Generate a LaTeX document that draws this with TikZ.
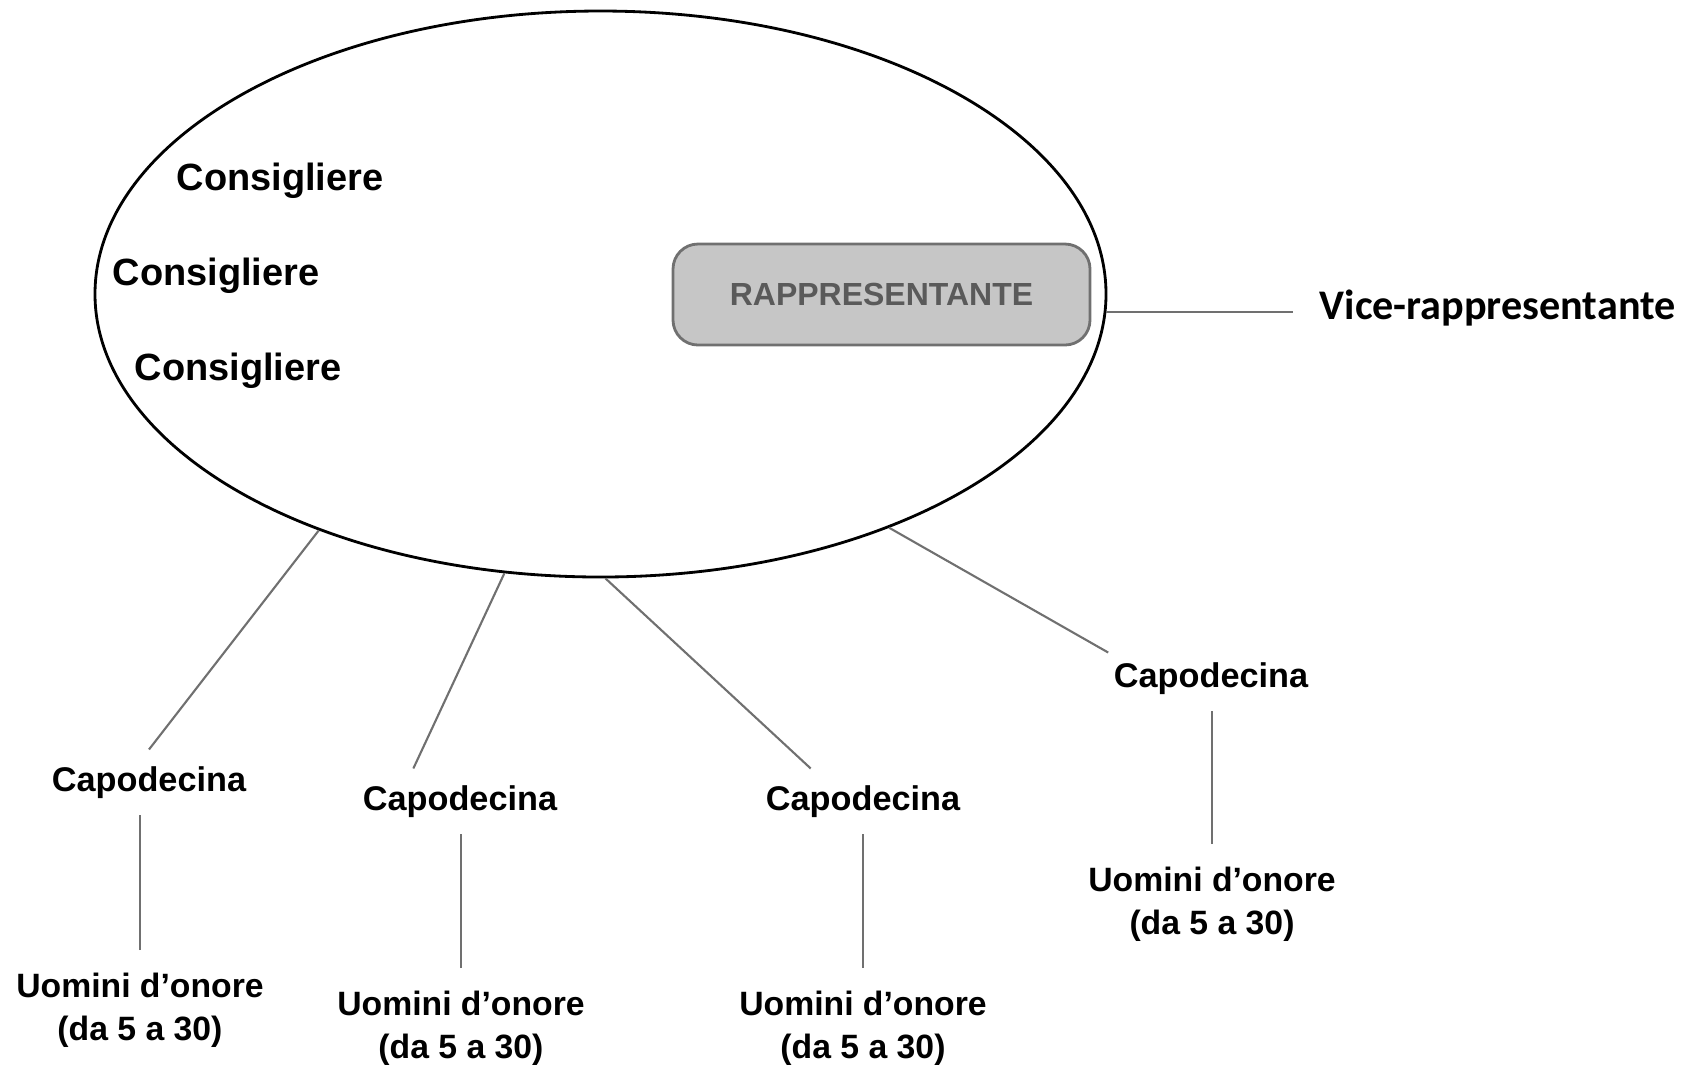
\documentclass[tikz,border=0pt]{standalone}
\usepackage{fontspec}
\setmainfont{Liberation Sans}
\newfontfamily\calibrifont{Carlito}
\usetikzlibrary{shapes.geometric, calc}
\definecolor{linegray}{RGB}{112,112,112}
\definecolor{boxfill}{RGB}{198,198,198}
\definecolor{boxtext}{RGB}{90,90,90}

\begin{document}
\begin{tikzpicture}[
    conn/.style={draw=linegray, line width=0.6pt},
    consig/.style={anchor=base, font=\bfseries\fontsize{10.8}{13}\selectfont},
    capo/.style={anchor=base, inner xsep=0.05cm, inner ysep=0.16cm, font=\bfseries\fontsize{9.75}{11}\selectfont},
    uomini/.style={anchor=north, align=center, inner ysep=0.22cm, font=\bfseries\fontsize{9.6}{12.2}\selectfont}
]
    \useasboundingbox (0,0) rectangle (16.92,-10.64);

    % the family
    \node[ellipse, draw, line width=0.8pt, minimum width=10.11cm, minimum height=5.66cm, inner sep=0pt] (ell) at (6.005,-2.94) {};
    \node[consig] (cons1) at (2.80,-1.90) {Consigliere};
    \node[consig] (cons2) at (2.16,-2.85) {Consigliere};
    \node[consig] (cons3) at (2.38,-3.80) {Consigliere};
    \node[draw=linegray, line width=0.8pt, fill=boxfill, rounded corners=0.25cm, minimum width=4.17cm, minimum height=1.01cm, inner sep=0pt,
          text=boxtext, font=\bfseries\fontsize{9.1}{10}\selectfont] (rapp) at (8.815,-2.945) {RAPPRESENTANTE};

    \node[anchor=base west, inner xsep=0.26cm, font=\calibrifont\bfseries\fontsize{12}{14}\selectfont] (vice) at (12.93,-3.19) {Vice-rappresentante};
    \draw[conn] (ell.358) -- (ell.358 -| vice.west);

    % capodecina and their men
    \foreach \i/\cx/\cy/\ux/\uy in {1/1.49/-7.91/1.40/-9.50, 2/4.60/-8.10/4.61/-9.68, 3/8.63/-8.10/8.63/-9.68, 4/12.11/-6.87/12.12/-8.44} {
        \node[capo] (cap\i) at (\cx,\cy) {Capodecina};
        \node[uomini] (uom\i) at (\ux,\uy) {Uomini d’onore\\(da 5 a 30)};
        \draw[conn] (uom\i.north) -- (uom\i.north |- cap\i.south);
    }

    \foreach \i/\a/\b in {1/220/north, 2/251/145, 3/271/148, 4/321/166} {
        \draw[conn] (ell.\a) -- (cap\i.\b);
    }
\end{tikzpicture}
\end{document}
